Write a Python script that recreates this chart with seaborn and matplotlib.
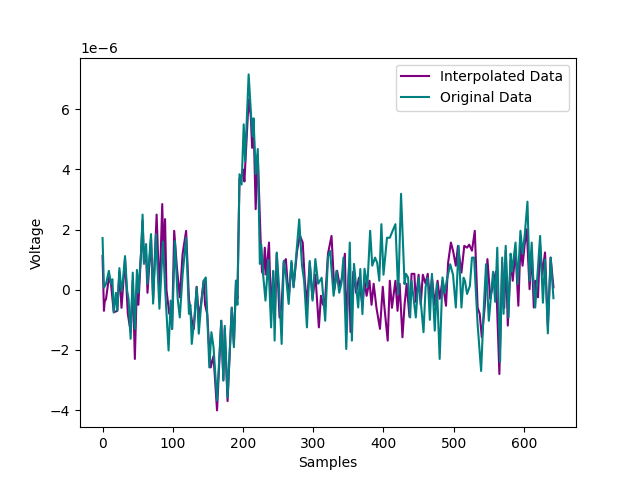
import numpy as np
import matplotlib
matplotlib.use("Agg")
import matplotlib.pyplot as plt
import seaborn as sns

# Original data (values in microvolts)
orig_samples = [0, 2, 5, 9, 12, 14, 16, 19, 21, 24, 27, 29, 32, 35, 37, 40, 43, 46, 49, 51,
                55, 57, 59, 62, 64, 69, 72, 76, 81, 86, 89, 94, 97, 99, 103, 107, 110, 114,
                119, 123, 125, 127, 131, 134, 137, 140, 144, 147, 152, 155, 158, 163, 169,
                172, 174, 178, 184, 187, 190, 192, 195, 198, 199, 201, 203, 208, 212, 214,
                215, 218, 221, 224, 226, 229, 232, 236, 240, 243, 245, 248, 251, 255, 258,
                261, 265, 269, 272, 277, 280, 284, 287, 291, 295, 299, 303, 307, 312, 317,
                321, 324, 329, 333, 337, 340, 343, 347, 352, 355, 358, 364, 367, 370, 373,
                377, 381, 384, 388, 391, 394, 397, 400, 405, 409, 413, 417, 421, 425, 430,
                432, 435, 438, 440, 446, 450, 457, 460, 463, 466, 469, 473, 476, 480, 484,
                487, 490, 495, 499, 503, 507, 511, 514, 516, 519, 523, 526, 529, 534, 539,
                543, 546, 550, 553, 556, 559, 562, 566, 569, 571, 574, 578, 581, 583, 588,
                591, 595, 598, 601, 605, 608, 611, 613, 616, 623, 627, 630, 634, 638, 642]
orig_uV = [1.72, 0.07, 0.2, 0.63, 0.2, 0.35, -0.75, -0.1, -0.7, 0.72, -0.05, 0.3, 1.12, -0.03,
           -0.3, -1.63, 0.57, -1.3, 0.66, -0.1, 1.3, 2.5, 0.86, 1.52, 0.2, 1.85, -0.46, 1.85,
           -0.63, 1.6, 0.1, -2.02, -0.36, -1.3, 1.62, -0.3, -0.92, 0.5, 1.73, -0.8, -0.5,
           -1.8, -0.9, 0.08, -1.46, -0.6, 0.3, 0.41, -2.58, -1.41, -1.9, -3.68, -1.03, -3.02,
           -1.2, -3.57, -0.59, -1.91, 0.3, -0.5, 3.84, 3.5, 4.17, 5.5, 4.28, 7.16, 5.6, 5.1,
           5.7, 3.85, 4.68, 0.86, 1.5, 0.41, -0.36, 1.0, -1.25, 0.63, -1.69, 1.24, 0.2, -1.8,
           0.96, 0.5, -0.47, 0.96, 0.08, 1.52, 2.34, 0.8, 0.3, -1.25, 0.96, -0.36, 1.02, 0.2,
           0.4, -1.03, 1.1, 1.29, -0.2, 0.63, -0.1, 0.2, 1.07, -1.97, 1.57, -1.69, 0.86,
           -0.59, 0.69, -0.81, 0.7, 0.1, 1.96, 0.8, 1.07, 0.9, 0.3, 2.18, 0.5, 1.73, 1.73,
           1.96, 2.18, -0.15, 3.19, 0.19, 0.53, 0.41, -0.92, 0.3, -0.92, 0.4, -1.41, 0.1,
           0.4, -1.0, 0.53, -1.36, 0.2, -2.3, 0.41, -0.1, 0.3, 0.85, 0.5, -0.59, 1.46, -0.59,
           0.4, 0.3, -0.14, 0.13, 1.07, 1.07, -1.14, -2.7, -0.5, 0.85, -1.03, -0.2, 0.6, -0.4,
           1.4, -2.4, 1.07, -0.8, 1.46, -0.92, 1.2, 0.6, 1.57, 0.19, 1.96, 1.2, 1.8, 2.93,
           0.3, 1.57, 0.5, -0.59, 1.79, -0.43, 1.0, -1.45, 1.07, -0.28]

# Interpolated data (values in microvolts)
interp_samples = [0, 2, 3, 5, 9, 12, 16, 21, 24, 27, 32, 36, 40, 43, 46, 49, 51, 55, 57, 59,
                  62, 64, 69, 72, 77, 81, 85, 87, 89, 91, 95, 97, 99, 102, 106, 110, 114, 119,
                  123, 127, 130, 134, 137, 140, 144, 146, 149, 152, 154, 158, 163, 169, 172,
                  174, 178, 184, 187, 190, 192, 195, 198, 200, 202, 208, 211, 213, 215, 218,
                  221, 225, 227, 229, 231, 233, 237, 240, 243, 245, 248, 252, 255, 258, 261,
                  265, 269, 272, 277, 281, 285, 288, 291, 295, 299, 303, 308, 311, 314, 317,
                  321, 326, 330, 334, 338, 342, 345, 347, 351, 353, 357, 361, 365, 370, 373,
                  376, 380, 383, 386, 390, 395, 399, 401, 406, 409, 412, 417, 420, 423, 427,
                  430, 433, 437, 440, 444, 446, 450, 453, 456, 460, 463, 466, 469, 473, 477,
                  480, 484, 489, 492, 496, 499, 503, 506, 511, 515, 519, 522, 526, 530, 534,
                  537, 540, 544, 548, 552, 556, 560, 565, 569, 572, 574, 577, 581, 584, 588,
                  592, 595, 598, 601, 604, 608, 611, 614, 616, 620, 623, 626, 630, 634, 638, 642]
interp_uV = [1.13, -0.7, -0.4, -0.3, 0.4, 0.2, -0.75, -0.7, 0.6, -0.6, 1.0, -0.8, -1.4, 0.3,
             -2.3, 0.3, -0.5, 1.3, 2.3, 0.9, 1.2, -0.1, 1.7, -0.3, 2.5, -0.2, 2.85, 0.9, 2.35,
             0.0, -0.8, -0.6, -1.3, 1.96, 0.7, -0.25, 1.19, 1.96, -0.3, -1.0, -1.3, 0.1, -0.9,
             -0.5, 0.3, -0.5, -0.8, -2.02, -2.58, -2.2, -4.01, -1.03, -3.0, -1.3, -3.7, -0.6,
             -1.8, 0.3, -0.3, 3.7, 3.8, 4.0, 3.6, 6.33, 5.8, 4.72, 5.6, 2.68, 4.5, 1.69, 0.6,
             0.5, 1.4, 0.5, 1.57, -0.8, 0.6, -1.0, 1.2, -0.92, -0.5, 0.9, 1.02, -0.3, 0.9, 0.1,
             1.3, 1.8, 1.57, 0.3, -0.5, 0.9, -0.3, 0.5, -1.25, -0.2, -0.5, -0.3, 1.2, 1.79,
             0.0, 0.63, 0.1, 0.5, 1.2, -1.2, 0.8, -1.4, 0.6, -0.1, 0.4, -0.53, 0.3, -0.2, 0.3,
             -0.5, 0.2, -0.6, -1.3, 0.1, -0.5, -1.69, 0.3, -0.6, 0.3, -0.7, 0.2, -1.58, -0.5,
             0.2, -0.9, 0.53, 0.53, -0.4, 0.5, -0.5, 0.5, 0.2, 0.53, -0.3, 0.4, -0.5, 0.3,
             -0.3, 0.3, -0.53, 0.9, 1.57, 1.3, 0.8, 1.46, 0.57, 1.46, 1.4, 1.5, 1.3, 1.96,
             -0.59, -0.8, -1.58, -0.6, 1.02, -0.3, 0.2, 0.6, -2.8, 0.9, -0.6, 1.3, -1.19, 1.0,
             0.3, 1.3, -0.53, 1.5, 0.8, 1.5, 2.01, 0.02, 1.3, -0.59, 0.3, -0.25, 1.5, 0.5,
             1.24, -1.2, 1.07, 0.08]

interp_V = np.array(interp_uV) * 1e-6
orig_V = np.array(orig_uV) * 1e-6

fig, ax = plt.subplots(figsize=(6.4, 4.8), dpi=100)
sns.lineplot(x=interp_samples, y=interp_V, color="purple", label="Interpolated Data",
             ax=ax, estimator=None, linewidth=1.5)
sns.lineplot(x=orig_samples, y=orig_V, color="teal", label="Original Data",
             ax=ax, estimator=None, linewidth=1.5)
ax.set_xlabel("Samples")
ax.set_ylabel("Voltage")
ax.legend(loc="upper right")
fig.savefig("out.png", dpi=100)
